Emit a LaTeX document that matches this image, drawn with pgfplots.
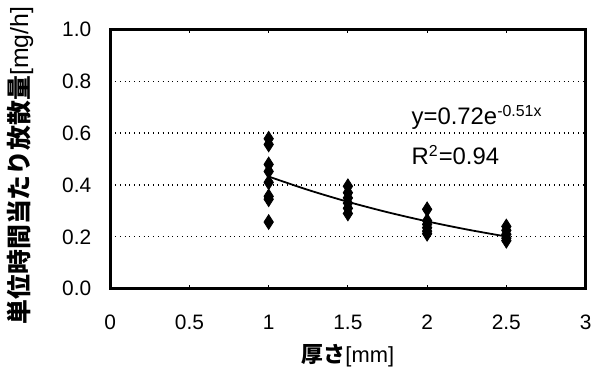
\documentclass[border=0pt]{standalone}
\usepackage{pgfplots}
\pgfplotsset{compat=1.18}
\usepackage{fontspec}
\setmainfont{Liberation Sans}
\newfontfamily\cjk{Noto Sans CJK JP}
\begin{document}
\begin{tikzpicture}
\begin{axis}[
  scale only axis,
  width=239pt, height=130.5pt,
  xmin=0, xmax=3, ymin=0, ymax=1,
  xtick={0,0.5,...,3},
  ytick={0,0.2,...,1.0},
  /pgf/number format/assume math mode=true,
  xticklabel style={font=\fontsize{10.5}{12}\selectfont, yshift=-9.5pt},
  yticklabel style={font=\fontsize{10.5}{12}\selectfont, xshift=-6pt, /pgf/number format/.cd, fixed, fixed zerofill, precision=1},
  xticklabel={\pgfmathprintnumber[fixed]{\tick}},
  major tick length=2pt,
  xtick style={black, line width=0.6pt},
  ytick style={draw=none},
  tick align=inside,
  axis line style={line width=1.6pt},
  ymajorgrids,
  major grid style={black, dotted, line width=0.6pt},
  xlabel={{\cjk\bfseries 厚さ}{\normalfont [mm]}},
  xlabel style={font=\fontsize{11}{13}\selectfont, at={(axis description cs:0.5,-0.257)}, anchor=center},
  ylabel={{\cjk\bfseries 単位時間当たり放散量}{\normalfont [mg/h]}},
  ylabel style={font=\fontsize{12.5}{14}\selectfont, at={(axis description cs:-0.19,0.475)}, anchor=center, rotate=0},
  clip=false,
]
\addplot[only marks, mark=diamond*, mark size=3.7pt, mark options={black, xscale=0.85}] coordinates {
  (1,0.578) (1,0.556) (1,0.479) (1,0.452) (1,0.41) (1,0.356) (1,0.345) (1,0.257)
  (1.5,0.395) (1.5,0.37) (1.5,0.35) (1.5,0.33) (1.5,0.31) (1.5,0.29)
  (2,0.306) (2,0.262) (2,0.248) (2,0.235) (2,0.222) (2,0.212)
  (2.5,0.24) (2.5,0.225) (2.5,0.21) (2.5,0.195) (2.5,0.185)
};
\addplot[black, line width=0.9pt, smooth] coordinates {
  (1,0.4323) (1.25,0.3806) (1.5,0.3350) (1.75,0.2949) (2,0.2596) (2.25,0.2285) (2.5,0.2012)
};
\node[anchor=west, font=\fontsize{12}{14}\selectfont, inner sep=0pt] at (axis cs:1.9,0.66) {y=0.72e\textsuperscript{-0.51x}};
\node[anchor=west, font=\fontsize{12}{14}\selectfont, inner sep=0pt] at (axis cs:1.9,0.515) {R\textsuperscript{2}=0.94};
\end{axis}
\path (current axis.south west) ++(-54pt,-46.5pt) coordinate (bl);
\path (current axis.north east) ++(6pt,14.5pt) coordinate (tr);
\path (bl) rectangle (tr);
\end{tikzpicture}
\end{document}
